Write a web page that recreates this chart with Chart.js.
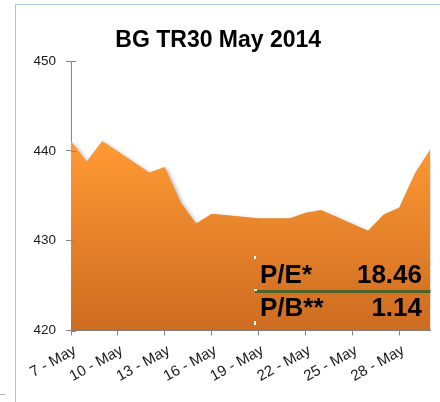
<!DOCTYPE html>
<html>
<head>
<meta charset="utf-8">
<script src="https://cdn.jsdelivr.net/npm/chart.js@4.4.1/dist/chart.umd.min.js"></script>
<style>
  html, body { margin: 0; padding: 0; background: #fff; }
  canvas { display: block; }
</style>
</head>
<body>
<canvas id="chart" width="440" height="402"></canvas>
<script>
// BG TR30 closing values, May 2014 (trading days only)
const days = [7, 8, 9, 12, 13, 14, 15, 16, 19, 20, 21, 22, 23, 26, 27, 28, 29, 30];
const values = [441.1, 438.8, 441.1, 437.6, 438.2, 434.3, 431.9, 433.0, 432.5, 432.5, 432.5, 433.1, 433.4, 431.1, 432.9, 433.7, 437.5, 440.2];
const tickDays = [7, 10, 13, 16, 19, 22, 25, 28];
const yTicks = [420, 430, 440, 450];
const monthName = "May";
const ratioLabels = ["P/E*", "P/B**"];
const ratioValues = ["18.46", "1.14"];

const AXIS_GRAY = "#868686";
const FONT = "'Liberation Sans', Arial, sans-serif";

// white page + the light blue frame of the chart object
const framePlugin = {
    id: "frame",
    beforeDraw(chart) {
        const c = chart.ctx;
        c.save();
        c.fillStyle = "#fff";
        c.fillRect(0, 0, chart.width, chart.height);
        c.strokeStyle = "#aac4e2";
        c.lineWidth = 1;
        c.beginPath();
        c.moveTo(15.5, chart.height);
        c.lineTo(15.5, 4.5);
        c.lineTo(chart.width, 4.5);
        c.stroke();
        c.strokeStyle = "#b0b0b0";
        c.beginPath();
        c.moveTo(0, 394.5);
        c.lineTo(5, 394.5);
        c.stroke();
        c.restore();
    }
};

// soft shadow under the area, like the Excel shape effect
const shadowPlugin = {
    id: "areaShadow",
    beforeDatasetsDraw(chart) {
        const c = chart.ctx;
        c.save();
        c.shadowColor = "rgba(0,0,0,0.35)";
        c.shadowBlur = 4;
        c.shadowOffsetX = 2;
        c.shadowOffsetY = 2;
    },
    afterDatasetsDraw(chart) {
        chart.ctx.restore();
    }
};

// cross tick marks on the value axis + the P/E, P/B text box
const overlayPlugin = {
    id: "overlay",
    afterDraw(chart) {
        const c = chart.ctx;
        const area = chart.chartArea;
        const y = chart.scales.y;
        c.save();
        c.strokeStyle = AXIS_GRAY;
        c.lineWidth = 1;
        yTicks.forEach(v => {
            const py = Math.round(y.getPixelForValue(v)) + 0.5;
            c.beginPath();
            c.moveTo(area.left, py);
            c.lineTo(area.left + 5, py);
            c.stroke();
        });

        // green separator line
        c.fillStyle = "#4f6228";
        c.fillRect(255, 290, area.right - 255, 3);

        c.fillStyle = "#000";
        c.font = "bold 26px " + FONT;
        c.textBaseline = "alphabetic";
        const baselines = [282.5, 315.5];
        ratioLabels.forEach((lbl, i) => {
            c.textAlign = "left";
            c.fillText(lbl, 260, baselines[i]);
            c.textAlign = "right";
            c.fillText(ratioValues[i], 422, baselines[i]);
        });

        // little white handles of the text box
        c.fillStyle = "#fff";
        c.fillRect(254, 256, 2, 3);
        c.fillRect(254, 289, 3, 2);
        c.fillRect(254, 321, 2, 4);
        c.restore();
    }
};

function areaFill(context) {
    const chart = context.chart;
    const area = chart.chartArea;
    if (!area) return "#f08a2c";
    const top = chart.scales.y.getPixelForValue(Math.max(...values));
    const g = chart.ctx.createLinearGradient(0, top, 0, area.bottom);
    g.addColorStop(0, "#ff9a33");
    g.addColorStop(1, "#cd6b21");
    return g;
}

new Chart(document.getElementById("chart"), {
    type: "line",
    data: {
        datasets: [{
            data: days.map((d, i) => ({ x: d, y: values[i] })),
            fill: "start",
            backgroundColor: areaFill,
            borderWidth: 0,
            pointRadius: 0,
            tension: 0
        }]
    },
    options: {
        responsive: false,
        animation: false,
        devicePixelRatio: 1,
        layout: { padding: { left: 6, right: 9.5, top: 0, bottom: 0 } },
        plugins: {
            legend: { display: false },
            tooltip: { enabled: false },
            title: {
                display: true,
                text: "BG TR30 May 2014",
                color: "#000",
                font: { family: FONT, size: 23, weight: "bold" },
                padding: { top: 27, bottom: 6.4 }
            }
        },
        scales: {
            x: {
                type: "linear",
                min: days[0],
                max: days[days.length - 1],
                z: 1,
                afterBuildTicks: scale => { scale.ticks = tickDays.map(v => ({ value: v })); },
                afterFit: scale => { scale.height = 71.5; },
                border: { color: AXIS_GRAY, width: 1 },
                grid: { drawOnChartArea: false, drawTicks: true, tickLength: 5, color: AXIS_GRAY },
                ticks: {
                    autoSkip: false,
                    minRotation: 29,
                    maxRotation: 29,
                    padding: 6,
                    labelOffset: 4,
                    color: "#1a1a1a",
                    font: { family: FONT, size: 15 },
                    callback: v => v + " - " + monthName
                }
            },
            y: {
                min: yTicks[0],
                max: yTicks[yTicks.length - 1],
                z: 1,
                afterBuildTicks: scale => { scale.ticks = yTicks.map(v => ({ value: v })); },
                afterFit: scale => { scale.width = 65; },
                border: { color: AXIS_GRAY, width: 1 },
                grid: { drawOnChartArea: false, drawTicks: true, tickLength: 5, color: AXIS_GRAY },
                ticks: {
                    padding: 10,
                    color: "#1a1a1a",
                    font: { family: FONT, size: 13.5 }
                }
            }
        }
    },
    plugins: [framePlugin, shadowPlugin, overlayPlugin]
});
</script>
</body>
</html>
